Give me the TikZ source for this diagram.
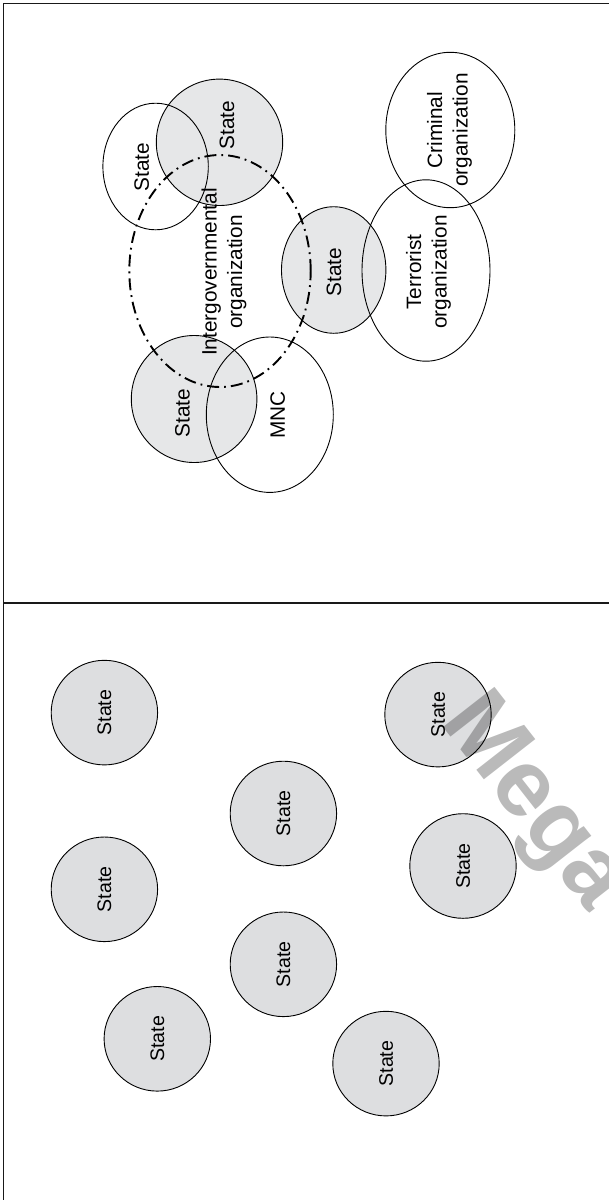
\documentclass[tikz,border=0pt]{standalone}
\usepackage{fontspec}
\setmainfont{Liberation Sans}
\definecolor{stategray}{RGB}{230,231,232}
\definecolor{stategrayb}{RGB}{221,222,224}
\tikzset{
  outline/.style={draw=black, line width=0.9pt},
  igo/.style={draw=black, line width=1.9pt, dash pattern=on 12pt off 5pt on 1.8pt off 5pt},
  frameline/.style={draw=black!90, line width=1.2pt},
  lbl/.style={rotate=90, inner sep=0pt, align=center, font=\fontsize{20.8}{25.4}\selectfont},
  lblb/.style={rotate=90, inner sep=0pt, align=center, font=\fontsize{19.6}{23}\selectfont},
  wmark/.style={rotate=-52, inner sep=0pt, text=black, text opacity=0.27, font=\bfseries\fontsize{95}{97}\selectfont}
}
\begin{document}
\begin{tikzpicture}[x=1pt,y=-1pt]
\clip (0,0) rectangle (609,1200);
\fill[white] (0,0) rectangle (609,1200);
% frame
\coordinate (tl) at (3.8,3.8);
\coordinate (tr) at (612,3.8);
\coordinate (bl) at (3.8,1204);
\coordinate (dl) at (3.8,603);
\coordinate (dr) at (612,603);
\draw[frameline] (bl) -- (tl) -- (tr);
\draw[frameline, line width=1.6pt] (dl) -- (dr);

% ---------- top panel ----------
\fill[stategray] (219.5,142.3) ellipse [x radius=63.2pt, y radius=63.2pt];
\fill[stategray] (333.7,270) ellipse [x radius=52.2pt, y radius=63.3pt];
\fill[stategray] (194.1,399) ellipse [x radius=62.8pt, y radius=63.5pt];

\draw[outline] (155.6,166.5) ellipse [x radius=52.7pt, y radius=63.3pt];
\draw[outline] (219.5,142.3) ellipse [x radius=63.2pt, y radius=63.2pt];
\draw[outline] (333.7,270) ellipse [x radius=52.2pt, y radius=63.3pt];
\draw[outline] (426,270.5) ellipse [x radius=64pt, y radius=90.7pt];
\draw[outline] (450.3,130) ellipse [x radius=64.5pt, y radius=77.7pt];
\draw[outline] (194.1,399) ellipse [x radius=62.8pt, y radius=63.5pt];
\draw[outline] (269.8,414.7) ellipse [x radius=63.5pt, y radius=77.7pt];
\draw[igo] (220,271) ellipse [x radius=90.7pt, y radius=116pt];

\node[lbl] (s1) at (141.7,167) {State};
\node[lbl] (s2) at (227,125) {State};
\node[lbl] (igo) at (224,272) {Intergovernmental\\organization};
\node[lbl] (s3) at (334,272) {State};
\node[lbl] (terr) at (428.5,272) {Terrorist\\organization};
\node[lbl] (crim) at (449.5,130) {Criminal\\organization};
\node[lbl] (s4) at (182.5,413) {State};
\node[lbl] (mnc) at (277.7,415) {MNC};

% ---------- bottom panel ----------
\foreach \n/\cx/\cy in {b1/104.4/712.6, b2/104.4/889.3, b3/157.3/1038.8, b4/283.4/813.5,
                        b5/283.4/964.3, b6/386/1063.6, b7/438/714.6, b8/463/866}{
  \filldraw[outline, fill=stategrayb] (\cx,\cy) ellipse [x radius=53.2pt, y radius=52.3pt];
  \node[lblb] (\n) at (\cx,\cy) {State};
}

% watermark
\node[wmark, anchor=base west] (wm) at (439,722) {Mega};
\end{tikzpicture}
\end{document}
